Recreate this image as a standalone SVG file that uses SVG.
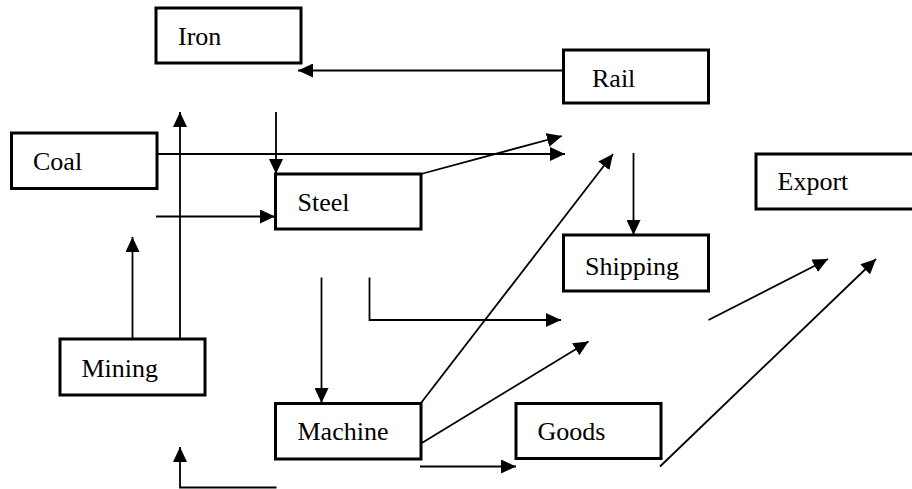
<svg xmlns="http://www.w3.org/2000/svg" width="912" height="489" viewBox="0 0 912 489">
<style>
.box{fill:#fff;stroke:#000;stroke-width:3}
.ln{fill:none;stroke:#000;stroke-width:1.8}
</style>
<defs>
<marker id="ah" markerUnits="userSpaceOnUse" markerWidth="16" markerHeight="14" refX="15" refY="7" orient="auto">
<path d="M0,0 L15,7 L0,14 z" fill="#000"/>
</marker>
</defs>
<rect width="912" height="489" fill="#fff"/>
<g id="connectors">
<line class="ln" x1="563" y1="70.5" x2="298" y2="70.5" marker-end="url(#ah)"/>
<line class="ln" x1="180" y1="340" x2="180" y2="112" marker-end="url(#ah)"/>
<line class="ln" x1="276" y1="112" x2="276" y2="174" marker-end="url(#ah)"/>
<line class="ln" x1="157" y1="154" x2="565" y2="154" marker-end="url(#ah)"/>
<line class="ln" x1="156" y1="216.5" x2="275" y2="216.5" marker-end="url(#ah)"/>
<line class="ln" x1="132.5" y1="339" x2="132.5" y2="237" marker-end="url(#ah)"/>
<line class="ln" x1="421" y1="174" x2="562" y2="136" marker-end="url(#ah)"/>
<line class="ln" x1="421" y1="403" x2="613" y2="154" marker-end="url(#ah)"/>
<line class="ln" x1="633.5" y1="153" x2="633.5" y2="235" marker-end="url(#ah)"/>
<line class="ln" x1="321.5" y1="277.5" x2="321.5" y2="403" marker-end="url(#ah)"/>
<polyline class="ln" points="369.5,277.5 369.5,320 561,320" marker-end="url(#ah)"/>
<line class="ln" x1="421" y1="443.5" x2="588.5" y2="341.5" marker-end="url(#ah)"/>
<line class="ln" x1="420" y1="466.5" x2="516" y2="466.5" marker-end="url(#ah)"/>
<line class="ln" x1="708.5" y1="320" x2="828" y2="259" marker-end="url(#ah)"/>
<line class="ln" x1="660" y1="466.5" x2="876" y2="259" marker-end="url(#ah)"/>
<polyline class="ln" points="276.5,487.5 180,487.5 180,447" marker-end="url(#ah)"/>
</g>
<g id="iron"><rect class="box" x="156" y="8" width="145" height="55"/><text x="178" y="45" font-size="26" font-family="Times New Roman, Liberation Serif, serif">Iron</text></g>
<g id="coal"><rect class="box" x="11.5" y="133" width="145.5" height="55.5"/><text x="33" y="170" font-size="26" font-family="Times New Roman, Liberation Serif, serif">Coal</text></g>
<g id="rail"><rect class="box" x="563.5" y="50" width="145" height="53"/><text x="592" y="87" font-size="26" font-family="Times New Roman, Liberation Serif, serif">Rail</text></g>
<g id="steel"><rect class="box" x="275.5" y="174" width="145.5" height="55"/><text x="297.5" y="211" font-size="26" font-family="Times New Roman, Liberation Serif, serif">Steel</text></g>
<g id="export"><rect class="box" x="756" y="154" width="170" height="55"/><text x="777.5" y="190" font-size="26" font-family="Times New Roman, Liberation Serif, serif">Export</text></g>
<g id="shipping"><rect class="box" x="563.5" y="235" width="145" height="56"/><text x="585" y="275" font-size="26" font-family="Times New Roman, Liberation Serif, serif">Shipping</text></g>
<g id="mining"><rect class="box" x="60" y="339" width="145" height="56"/><text x="81.5" y="377" font-size="26" font-family="Times New Roman, Liberation Serif, serif">Mining</text></g>
<g id="machine"><rect class="box" x="275.5" y="403.5" width="145.5" height="55.5"/><text x="297.5" y="440" font-size="26" font-family="Times New Roman, Liberation Serif, serif">Machine</text></g>
<g id="goods"><rect class="box" x="516" y="403.5" width="145" height="55"/><text x="537.5" y="440" font-size="26" font-family="Times New Roman, Liberation Serif, serif">Goods</text></g>
</svg>
